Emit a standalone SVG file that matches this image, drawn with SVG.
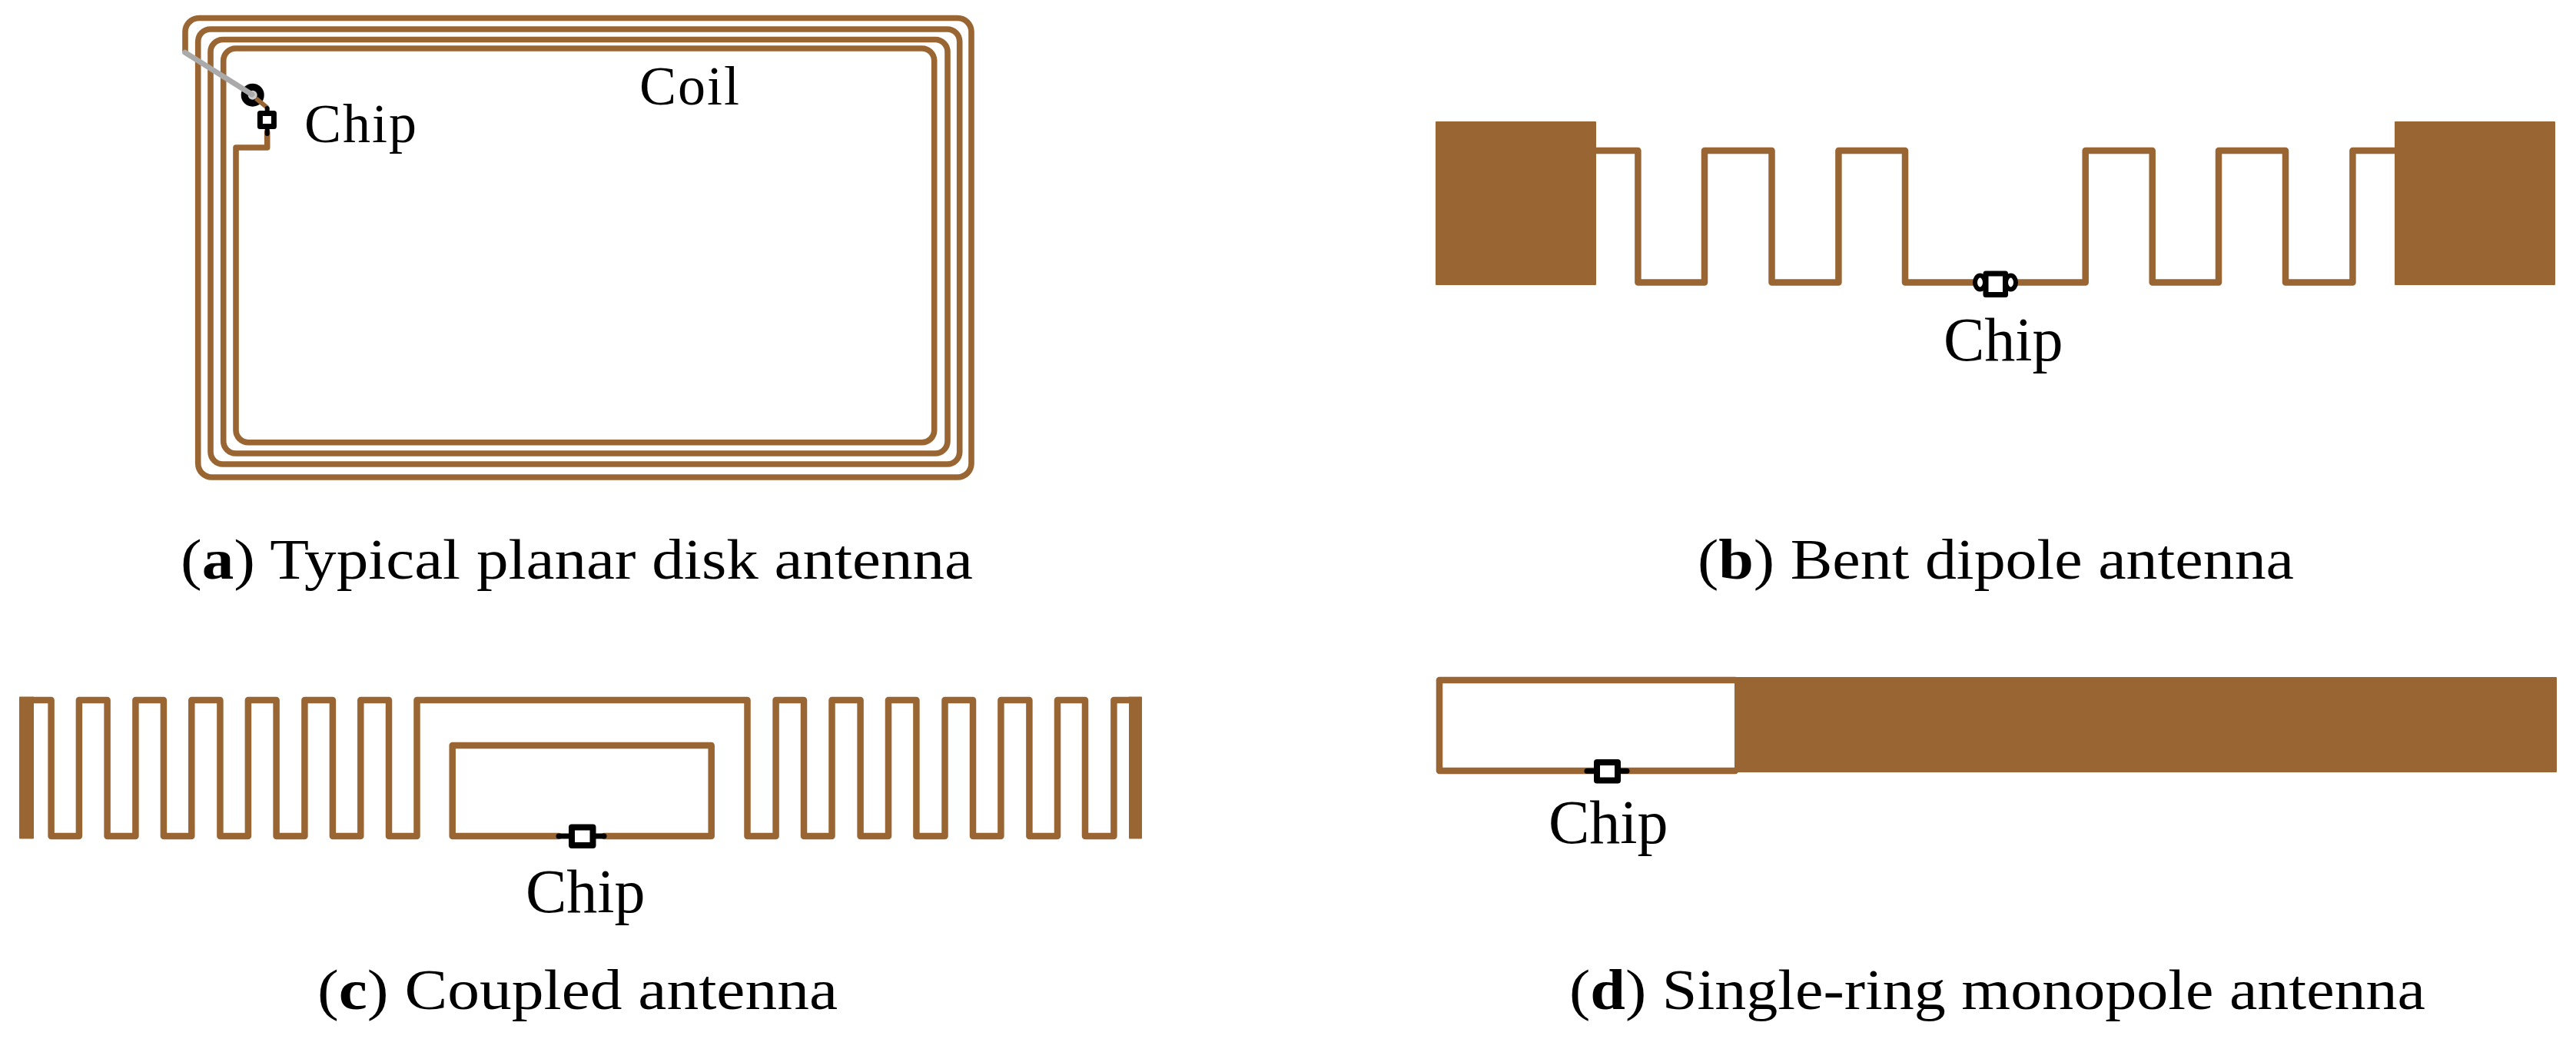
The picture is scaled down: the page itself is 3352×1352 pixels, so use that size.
<svg xmlns="http://www.w3.org/2000/svg" width="3352" height="1352" viewBox="0 0 3352 1352">
<style>
.tr{fill:none;stroke:#996633;stroke-width:8.500;stroke-linejoin:round;stroke-linecap:round}
.pad{fill:#996633;stroke:#996633;stroke-width:2;stroke-linejoin:round}
.body{fill:#fff;stroke:#000;stroke-linejoin:round}
.lead{stroke:#000;stroke-linecap:round;fill:none}
.lbl{font-family:"Liberation Serif","Times New Roman",serif;font-size:80px;fill:#000}
.sm{font-size:72px;letter-spacing:2px}
.cap{font-family:"Liberation Serif","Times New Roman",serif;font-size:75px;fill:#000}
.b{font-weight:bold}
</style>
<rect width="3352" height="1352" fill="#fff"/>
<g id="antenna-a">
<path class="tr" style="stroke-width:7.600" d="M241 66V41.5A18 18 0 0 1 259 23.500H1246A18 18 0 0 1 1264 41.500V603A18 18 0 0 1 1246 621H275.700A18 18 0 0 1 257.700 603V54A16 16 0 0 1 273.700 38H1232.700A16 16 0 0 1 1248.700 54V588A16 16 0 0 1 1232.700 604H290A16 16 0 0 1 274 588V67.500A16 16 0 0 1 290 51.500H1217A16 16 0 0 1 1233 67.500V574A16 16 0 0 1 1217 590H306.700A16 16 0 0 1 290.700 574V79A16 16 0 0 1 306.700 63H1199.700A16 16 0 0 1 1215.700 79V559.700A16 16 0 0 1 1199.700 575.700H323A16 16 0 0 1 307 559.700V192H347.700V172"/>
<circle cx="328.700" cy="123.700" r="15" fill="#000"/>
<circle cx="328.700" cy="123.700" r="6" fill="#cccccc"/>
<path d="M240.700 68.300L328 123" fill="none" stroke="#aaaaaa" stroke-width="7" stroke-linecap="round"/>
<path class="tr" style="stroke-width:6;stroke-linecap:butt" d="M333 128L347.700 140"/>
<path class="lead" stroke-width="6" d="M347.700 141V174"/>
<rect class="body" x="338.400" y="147.500" width="18" height="17" stroke-width="7"/>
<text class="lbl sm" x="396" y="185">Chip</text>
<text class="lbl sm" x="832" y="136">Coil</text>
</g>
<g id="antenna-b">
<rect class="pad" x="1869" y="159" width="207" height="211"/>
<rect class="pad" x="3117" y="159" width="207" height="211"/>
<path class="tr" d="M2076 196H2131.400V367.500H2218V196H2305.500V367.500H2392.400V196H2479V367.500H2713.700V196H2800.700V367.500H2887V196H2974V367.500H3061.400V196H3116"/>
<ellipse class="body" cx="2576.500" cy="367.500" rx="6.500" ry="9" stroke-width="6"/>
<ellipse class="body" cx="2616.500" cy="367.500" rx="6.500" ry="9" stroke-width="6"/>
<rect class="body" x="2584" y="356" width="25.500" height="27.500" stroke-width="7"/>
<text class="lbl" x="2529" y="469">Chip</text>
</g>
<g id="antenna-c">
<rect class="pad" x="26" y="907.500" width="17" height="183"/>
<rect class="pad" x="1470" y="907.500" width="15" height="183"/>
<path class="tr" d="M43 911H66.600V1088H102.900V911H139.600V1088H176.400V911H212.900V1088H249.300V911H286.400V1088H322.900V911H359.600V1088H396.400V911H432.900V1088H469.300V911H506V1088H542.500V911H972.500V1088H1009.600V911H1046V1088H1082.500V911H1119.600V1088H1156V911H1192.400V1088H1229.500V911H1266V1088H1302.400V911H1339.400V1088H1376V911H1412V1088H1449.400V911H1470"/>
<path class="tr" d="M727 1088H588.700V970H925.700V1088H786"/>
<path class="lead" stroke-width="7" d="M727 1088H786"/>
<rect class="body" x="744" y="1076.500" width="27.500" height="23.500" stroke-width="8"/>
<text class="lbl" x="684" y="1187">Chip</text>
</g>
<g id="antenna-d">
<rect class="pad" x="2258" y="882" width="1068" height="122"/>
<path class="tr" d="M2258 885H1873V1003H2258"/>
<path class="lead" stroke-width="7" d="M2065 1003.300H2117"/>
<rect class="body" x="2078" y="992" width="27" height="23.500" stroke-width="8"/>
<text class="lbl" x="2015" y="1097">Chip</text>
</g>
<g id="captions">
<text class="cap" x="235" y="753" textLength="1031" lengthAdjust="spacingAndGlyphs">(<tspan class="b">a</tspan>) Typical planar disk antenna</text>
<text class="cap" x="2209" y="753" textLength="776" lengthAdjust="spacingAndGlyphs">(<tspan class="b">b</tspan>) Bent dipole antenna</text>
<text class="cap" x="413" y="1313" textLength="677" lengthAdjust="spacingAndGlyphs">(<tspan class="b">c</tspan>) Coupled antenna</text>
<text class="cap" x="2042" y="1313" textLength="1114" lengthAdjust="spacingAndGlyphs">(<tspan class="b">d</tspan>) Single-ring monopole antenna</text>
</g>
</svg>
